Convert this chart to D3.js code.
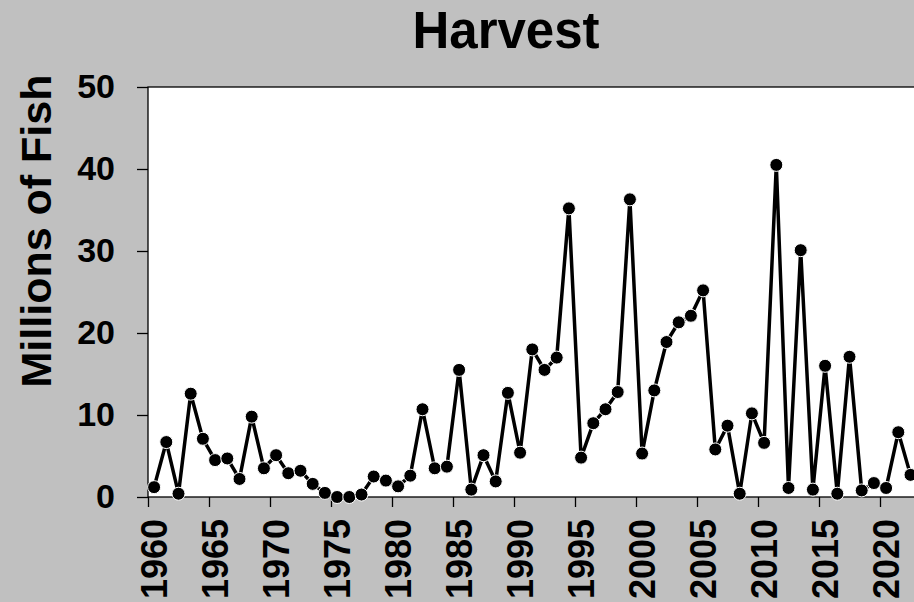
<!DOCTYPE html>
<html>
<head>
<meta charset="utf-8">
<script src="https://cdn.jsdelivr.net/npm/d3@7"></script>
<style>
  body { margin: 0; background: #c0c0c0; }
  svg { display: block; font-family: Arial, "Liberation Sans", sans-serif; }
  .axis text { font-weight: bold; fill: #000; }
</style>
</head>
<body>
<svg id="chart"></svg>
<script>
// Data
var years = d3.range(1960, 2023);
var harvest = [
    1.2, 6.7, 0.4, 12.6, 7.1, 4.5, 4.7, 2.2, 9.8, 3.5,
    5.1, 2.9, 3.2, 1.6, 0.5, 0.0, 0.0, 0.3, 2.5, 2.0,
    1.3, 2.6, 10.7, 3.5, 3.7, 15.5, 0.9, 5.1, 1.9, 12.7,
    5.4, 18.0, 15.5, 17.0, 35.2, 4.8, 9.0, 10.7, 12.8, 36.3,
    5.3, 13.0, 18.9, 21.3, 22.1, 25.2, 5.8, 8.7, 0.4, 10.2,
    6.6, 40.5, 1.1, 30.1, 0.9, 16.0, 0.4, 17.1, 0.8, 1.7,
    1.1, 7.9, 2.7
];
var yTicks = [0, 10, 20, 30, 40, 50];
var xTickYears = d3.range(1960, 2021, 5);

var data = years.map(function(y, i) { return { year: y, value: harvest[i] }; });

var width = 914, height = 602;
var plotLeft = 148, plotTop = 87, plotBottom = 497;
var step = 12.2;

var svg = d3.select('#chart')
    .attr('width', width)
    .attr('height', height);

svg.append('rect')
    .attr('width', width)
    .attr('height', height)
    .attr('fill', '#c0c0c0');

// Scales
var xScale = d3.scaleBand()
    .domain(years)
    .range([plotLeft, plotLeft + years.length * step])
    .padding(0);

// band edges, for the tick marks between categories
var xEdge = d3.scaleLinear()
    .domain([1960, 1960 + years.length])
    .range([plotLeft, plotLeft + years.length * step]);

var yScale = d3.scaleLinear()
    .domain([0, 50])
    .range([plotBottom, plotTop]);

// Plot area
svg.append('rect')
    .attr('x', plotLeft)
    .attr('y', plotTop)
    .attr('width', width + 20 - plotLeft)
    .attr('height', plotBottom - plotTop)
    .attr('fill', '#fff')
    .attr('stroke', '#000')
    .attr('stroke-width', 1.3);

// Title
svg.append('text')
    .attr('x', 506)
    .attr('y', 48)
    .attr('text-anchor', 'middle')
    .style('font-size', '51px')
    .style('font-weight', 'bold')
    .text('Harvest');

// Y axis title
svg.append('text')
    .attr('transform', 'translate(51,231) rotate(-90)')
    .attr('text-anchor', 'middle')
    .style('font-size', '43px')
    .style('font-weight', 'bold')
    .text('Millions of Fish');

// Y axis
var yAxis = svg.append('g')
    .attr('class', 'axis')
    .attr('transform', 'translate(' + plotLeft + ',0)')
    .call(d3.axisLeft(yScale).tickValues(yTicks).tickSize(11).tickPadding(22).tickSizeOuter(0));
yAxis.select('.domain').remove();
yAxis.selectAll('line').attr('stroke', '#000').attr('stroke-width', 1.3);
yAxis.selectAll('text').style('font-size', '34px');

// X tick marks
var xMarks = svg.append('g')
    .attr('class', 'axis')
    .attr('transform', 'translate(0,' + plotBottom + ')')
    .call(d3.axisBottom(xEdge).tickValues(xTickYears).tickSize(10).tickFormat(''));
xMarks.select('.domain').remove();
xMarks.selectAll('line').attr('stroke', '#000').attr('stroke-width', 1.3);

// X tick labels
var xAxis = svg.append('g')
    .attr('class', 'axis')
    .attr('transform', 'translate(0,' + plotBottom + ')')
    .call(d3.axisBottom(xScale).tickValues(xTickYears).tickSize(0));
xAxis.select('.domain').remove();
xAxis.selectAll('text')
    .attr('transform', 'rotate(-90)')
    .attr('x', -22)
    .attr('y', 0)
    .attr('dy', '0.35em')
    .style('text-anchor', 'end')
    .style('font-size', '36px');

// Line and markers
var cx = function(d) { return xScale(d.year) + xScale.bandwidth() / 2; };

var line = d3.line()
    .x(cx)
    .y(function(d) { return yScale(d.value); });

svg.append('path')
    .datum(data)
    .attr('fill', 'none')
    .attr('stroke', '#000')
    .attr('stroke-width', 3.5)
    .attr('stroke-linejoin', 'miter')
    .attr('d', line);

svg.selectAll('.dot')
    .data(data)
    .enter()
    .append('circle')
    .attr('class', 'dot')
    .attr('cx', cx)
    .attr('cy', function(d) { return yScale(d.value); })
    .attr('r', 6.5)
    .attr('fill', '#000')
    .attr('stroke', '#fff')
    .attr('stroke-width', 1);
</script>
</body>
</html>
